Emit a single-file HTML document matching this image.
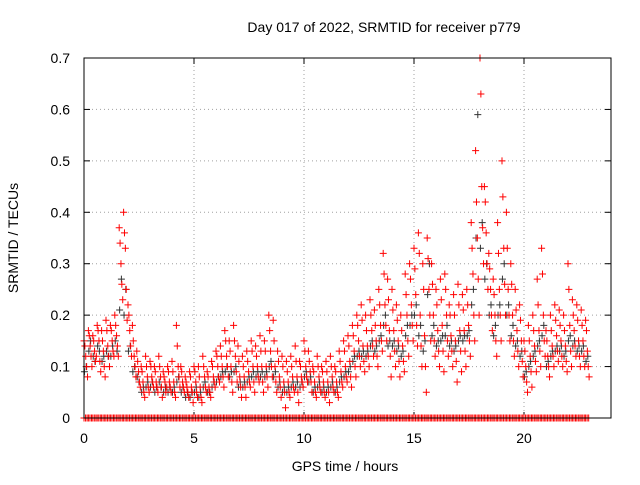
<!DOCTYPE html>
<html><head><meta charset="utf-8"><style>
body{margin:0;background:#fff}
svg text{font-family:"Liberation Sans",sans-serif;font-size:14px;fill:#000}
</style></head><body>
<svg id="c" width="640" height="480"></svg>
<script>
const xTicks=[0,5,10,15,20];
const yTicks=[0,0.1,0.2,0.3,0.4,0.5,0.6,0.7];
const yTickLabels=["0","0.1","0.2","0.3","0.4","0.5","0.6","0.7"];
const redHi=[.15,.17,.16,.18,.17,.19,.18,.2,.37,.4, .22,.18,.13,.1,.12,.11,.1,.12,.09,.1, .11,.18,.1,.08,.09,.1,.1,.12,.09,.11, .13,.14,.17,.15,.18,.14,.12,.13,.15,.14, .16,.15,.2,.19,.13,.12,.11,.12,.14,.11, .15,.13,.1,.12,.1,.11,.12,.1,.13,.15, .16,.18,.2,.22,.2,.23,.21,.25,.32,.27, .25,.22,.2,.28,.3,.33,.36,.3,.35,.3, .25,.27,.28,.22,.24,.26,.24,.25,.38,.52, .7,.45,.32,.27,.38,.5,.4,.3,.25,.22, .15,.18,.2,.27,.33,.17,.2,.22,.21,.2, .3,.23,.22,.21,.19];
const redQ3=[.14,.16,.15,.17,.15,.17,.17,.18,.34,.36, .2,.15,.11,.09,.1,.1,.09,.1,.08,.09, .09,.14,.09,.07,.08,.09,.08,.1,.08,.1, .12,.12,.15,.13,.15,.11,.1,.11,.13,.12, .13,.13,.17,.15,.11,.1,.09,.1,.11,.1, .13,.11,.09,.1,.09,.09,.1,.09,.11,.13, .14,.16,.18,.19,.17,.2,.18,.22,.28,.23, .21,.19,.17,.24,.27,.29,.32,.25,.31,.26, .22,.23,.25,.2,.2,.22,.21,.22,.33,.42, .63,.42,.29,.24,.32,.43,.33,.26,.21,.19, .13,.15,.17,.22,.28,.15,.17,.19,.18,.17, .25,.2,.19,.18,.17];
const redMid=[.12,.14,.13,.15,.13,.14,.15,.16,.3,.33, .17,.12,.09,.07,.08,.08,.07,.08,.07,.07, .07,.1,.07,.06,.06,.07,.06,.08,.06,.08, .1,.1,.12,.1,.12,.08,.08,.09,.1,.1, .1,.1,.13,.1,.08,.07,.07,.08,.08,.08, .1,.09,.07,.08,.07,.07,.08,.07,.09,.1, .11,.13,.15,.14,.14,.17,.15,.18,.22,.17, .17,.15,.14,.2,.22,.24,.2,.16,.25,.2, .17,.18,.2,.16,.15,.17,.17,.18,.28,.35, .45,.36,.25,.2,.25,.33,.25,.2,.17,.15, .1,.12,.14,.17,.2,.12,.14,.16,.15,.14, .18,.17,.15,.15,.13];
const redQ1=[.1,.12,.11,.11,.1,.12,.13,.14,.26,.25, .14,.1,.07,.05,.06,.07,.06,.06,.05,.06, .05,.08,.06,.05,.05,.05,.04,.06,.05,.07, .08,.08,.1,.07,.09,.06,.06,.07,.07,.08, .07,.08,.1,.07,.06,.05,.05,.06,.05,.07, .08,.07,.05,.06,.05,.05,.06,.05,.07,.08, .08,.1,.12,.11,.12,.14,.12,.15,.18,.12, .13,.11,.11,.15,.18,.18,.14,.1,.2,.15, .13,.13,.15,.13,.11,.13,.13,.15,.2,.27, .37,.3,.2,.15,.2,.26,.2,.15,.13,.11, .07,.09,.11,.13,.15,.1,.12,.13,.12,.11, .13,.14,.12,.12,.1];
const redLo=[.08,.1,.12,.09,.08,.1,.12,.12,.23,.19, .12,.08,.06,.04,.05,.06,.05,.04,.06,.05, .04,.06,.05,.04,.03,.04,.03,.05,.04,.06, .07,.06,.08,.05,.07,.04,.04,.06,.05,.07, .05,.06,.08,.05,.04,.02,.04,.05,.03,.06, .07,.05,.04,.05,.04,.03,.05,.04,.06,.07, .06,.08,.1,.09,.1,.12,.1,.13,.15,.08, .1,.08,.09,.12,.15,.14,.1,.05,.15,.12, .1,.09,.12,.1,.07,.09,.1,.12,.15,.2, .3,.25,.17,.12,.15,.2,.15,.12,.1,.08, .05,.06,.09,.1,.12,.08,.1,.11,.1,.09, .1,.12,.1,.1,.08];
const blackVals=[.1,.15,.11,.13,.12,.12,.14,.13,.27,.25, .14,.1,.07,.06,.07,.07,.06,.06,.06,.06, .06,.08,.06,.05,.05,.06,.05,.07,.05,.07, .08,.09,.1,.09,.1,.07,.07,.08,.09,.09, .09,.09,.11,.09,.07,.06,.06,.07,.07,.07, .09,.08,.06,.07,.06,.06,.07,.06,.08,.09, .1,.12,.13,.13,.13,.15,.14,.16,.2,.15, .15,.14,.13,.18,.2,.22,.18,.15,.3,.18, .15,.16,.18,.15,.14,.16,.16,.17,.25,.59, .38,.3,.22,.18,.22,.3,.22,.18,.15,.13, .09,.11,.13,.15,.18,.11,.13,.14,.14,.13, .16,.15,.14,.14,.12];
const blackB=[.09,.13,.12,.14,.11,.13,.12,.15,.21,.2, .13,.09,.08,.05,.06,.06,.05,.07,.05,.05, .05,.07,.05,.04,.04,.05,.04,.06,.05,.06, .07,.08,.09,.08,.09,.06,.06,.07,.08,.08, .08,.08,.1,.08,.06,.05,.05,.06,.06,.06, .08,.07,.05,.06,.05,.05,.06,.05,.07,.08, .09,.11,.12,.12,.12,.14,.13,.15,.18,.14, .14,.13,.12,.16,.18,.2,.16,.13,.24,.16, .14,.15,.16,.14,.13,.15,.15,.16,.22,.35, .33,.27,.2,.16,.2,.27,.2,.16,.14,.12, .08,.1,.12,.14,.16,.1,.12,.13,.13,.12, .15,.14,.13,.13,.11];
const step=0.2;
const NS="http://www.w3.org/2000/svg";
const svg=document.getElementById('c');
const L=84,R=611,T=58,B=418;
const xs=v=>L+v*22;
const ys=v=>B-v*(B-T)/0.7;
function mk(tag,attrs,parent){const e=document.createElementNS(NS,tag);for(const k in attrs)e.setAttribute(k,attrs[k]);(parent||svg).appendChild(e);return e;}
yTicks.forEach((v,i)=>{
  if(i>0&&i<yTicks.length-1){const g=mk('line',{x1:L,x2:R,y1:ys(v),y2:ys(v),stroke:'#a0a0a0','stroke-dasharray':'1,3'});
  
  }
  const t=mk('text',{x:L-14,y:ys(v)+5,'text-anchor':'end'});t.textContent=yTickLabels[i];
  
  
  mk('line',{x1:L,x2:L+6,y1:ys(v),y2:ys(v),stroke:'#000'});
  mk('line',{x1:R,x2:R-6,y1:ys(v),y2:ys(v),stroke:'#000'});
});
xTicks.forEach(v=>{
  if(v>0){const g=mk('line',{x1:xs(v),x2:xs(v),y1:T,y2:B,stroke:'#a0a0a0','stroke-dasharray':'1,3'});
  
  }
  const t=mk('text',{x:xs(v),y:443,'text-anchor':'middle'});t.textContent=String(v);
  
  
  mk('line',{x1:xs(v),x2:xs(v),y1:B,y2:B-6,stroke:'#000'});
  mk('line',{x1:xs(v),x2:xs(v),y1:T,y2:T+6,stroke:'#000'});
});
function plus(x,y,col,name){
  const p=mk('path',{d:`M${x-3.5},${y}h7M${x},${y-3.5}v7`,stroke:col,'stroke-width':1,fill:'none'});
  
  
}
blackVals.forEach((v,i)=>plus(xs(i*step+0.1),ys(v),'#333','black-point'));
blackB.forEach((v,i)=>plus(xs(i*step+0.02),ys(v),'#333','black-point'));
[redHi,redQ3,redMid,redQ1,redLo].forEach((arr,k)=>arr.forEach((v,i)=>plus(xs(i*step+k*0.04),ys(v),'#ff0000','red-point')));
redMid.forEach((v,i)=>{[0,0.07,0.14].forEach(o=>plus(xs(i*step+o),ys(0),'#ff0000','zero-point'));});
const fr=mk('rect',{x:L,y:T,width:R-L,height:B-T,fill:'none',stroke:'#000'});


const tt=mk('text',{x:384,y:32,'text-anchor':'middle'});tt.textContent='Day 017 of 2022, SRMTID for receiver p779';


const xl=mk('text',{x:345,y:471,'text-anchor':'middle'});xl.textContent='GPS time / hours';


const yl=mk('text',{x:0,y:0,'text-anchor':'middle',transform:'translate(18,238) rotate(-90)'});yl.textContent='SRMTID / TECUs';


</script>
</body></html>
